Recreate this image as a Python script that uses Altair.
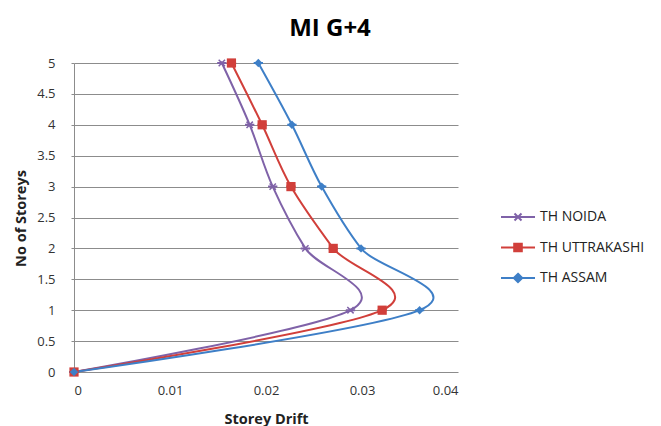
import altair as alt
import pandas as pd

# Storey levels and drift values for each site
levels = [0, 1, 2, 3, 4, 5]
noida = [0.0, 0.0288, 0.0241, 0.0207, 0.0183, 0.0154]
uttarakashi = [0.0, 0.0321, 0.0270, 0.0226, 0.0196, 0.0164]
assam = [0.0, 0.0360, 0.0299, 0.0258, 0.0227, 0.0192]

series = ["TH NOIDA", "TH UTTRAKASHI", "TH ASSAM"]
colors = ["#7F62A8", "#D13F3A", "#3E7FC7"]

x_ticks = [0, 0.01, 0.02, 0.03, 0.04]
y_ticks = [0, 0.5, 1, 1.5, 2, 2.5, 3, 3.5, 4, 4.5, 5]

rows = []
for name, vals in zip(series, [noida, uttarakashi, assam]):
    for lvl, v in zip(levels, vals):
        rows.append({"series": name, "level": lvl, "drift": v})
df = pd.DataFrame(rows)

FONT = "Open Sans"
GRID = "#8C8C8C"

# legend glyphs: a short line with the series marker in the middle
# (markers are hatched with strokes so they read as solid)
legend_paths = [
    "M-1.7,0L1.7,0M-0.35,-0.35L0.35,0.35M-0.35,0.35L0.35,-0.35",
    "M-1.7,0L1.7,0M-0.38,-0.38L0.38,-0.38L0.38,0.38L-0.38,0.38Z"
    "M-0.38,-0.25L0.38,-0.25M-0.38,-0.12L0.38,-0.12"
    "M-0.38,0.12L0.38,0.12M-0.38,0.25L0.38,0.25",
    "M-1.7,0L1.7,0M0,-0.42L0.42,0L0,0.42L-0.42,0Z"
    "M-0.16,-0.26L0.16,-0.26M-0.3,-0.12L0.3,-0.12"
    "M-0.3,0.12L0.3,0.12M-0.16,0.26L0.16,0.26",
]

x_enc = alt.X(
    "drift:Q",
    scale=alt.Scale(domain=[0, 0.04], nice=False, zero=True),
    axis=alt.Axis(
        values=x_ticks, format="~g", title="Storey Drift",
        labelFont=FONT, labelFontSize=13, labelColor="#333333", labelPadding=12,
        domain=False, ticks=False, grid=False,
        titleFont=FONT, titleFontSize=14.5, titleFontWeight="bold", titleColor="#222222",
        titleY=51, titleBaseline="alphabetic",
    ),
)
y_enc = alt.Y(
    "level:Q",
    scale=alt.Scale(domain=[0, 5], nice=False),
    axis=alt.Axis(
        values=y_ticks, format="~g", title="No  of  Storeys", labelOverlap=False,
        labelFont=FONT, labelFontSize=13, labelColor="#333333", labelPadding=16,
        domain=True, domainColor=GRID, ticks=True, tickSize=3, tickColor=GRID,
        grid=True, gridColor=GRID, gridWidth=1,
        titleFont=FONT, titleFontSize=14.5, titleFontWeight="bold", titleColor="#222222",
        titleX=-53, titleY=155, titleBaseline="middle", titleAlign="center",
    ),
)

color_scale = alt.Scale(domain=series, range=colors)
shape_scale = alt.Scale(domain=series, range=legend_paths)

base = alt.Chart(df).encode(x=x_enc, y=y_enc)

# the series lines carry the legend (shape + colour glyphs)
lines = base.mark_line(interpolate="cardinal", tension=0, strokeWidth=2).encode(
    stroke=alt.Stroke("series:N", scale=color_scale, legend=alt.Legend(
        orient="right", offset=-94, padding=143, title=None,
        symbolSize=400, symbolStrokeWidth=2, symbolType="stroke",
        labelFont=FONT, labelFontSize=14, labelColor="#222222",
        labelOffset=11, rowPadding=11.5,
    )),
    shape=alt.Shape("series:N", scale=shape_scale),
    order=alt.Order("level:Q"),
)

cross_pts = base.transform_filter(alt.datum.series == series[0]).mark_point(
    shape="M-1,-1L1,1M-1,1L1,-1", size=40, filled=False, strokeWidth=1.5,
    opacity=1, color=colors[0]
)
square_pts = base.transform_filter(alt.datum.series == series[1]).mark_point(
    shape="square", size=85, filled=True, opacity=1, color=colors[1]
)
diamond_pts = base.transform_filter(alt.datum.series == series[2]).mark_point(
    shape="diamond", size=70, filled=True, opacity=1, color=colors[2]
)

chart = alt.layer(lines, cross_pts, square_pts, diamond_pts).properties(
    width=384,
    height=309,
    autosize="none",
    padding={"left": 74, "top": 63, "right": 203, "bottom": 54},
    title=alt.TitleParams(
        "MI G+4", font=FONT, fontSize=24, fontWeight="bold", color="#000000",
        anchor="middle", dx=64, offset=16,
    ),
).configure_view(stroke=None)

chart.save("out.html", embed_options={"renderer": "svg", "actions": False})
